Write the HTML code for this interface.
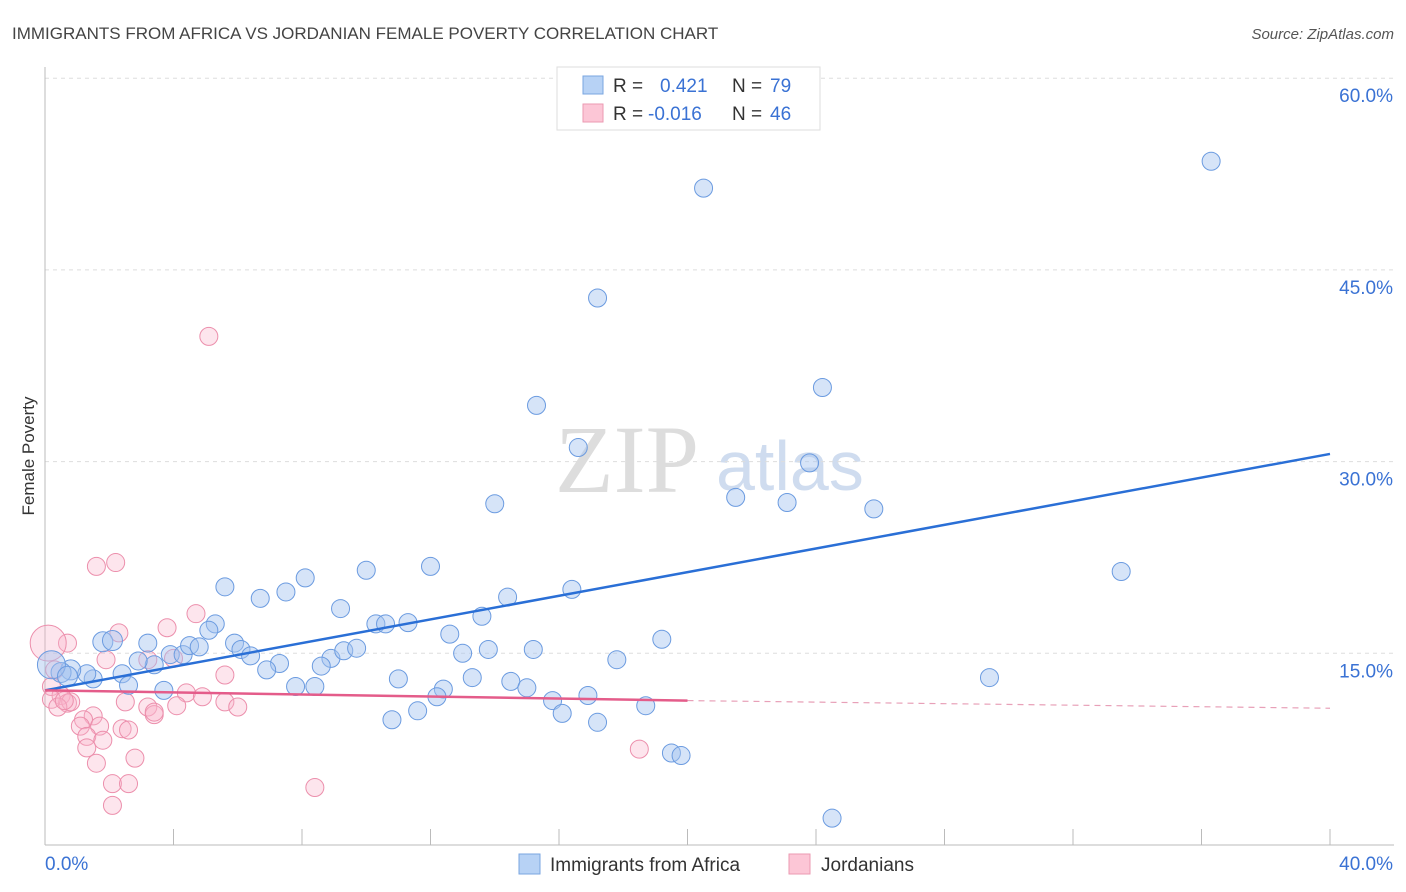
<!DOCTYPE html>
<html><head><meta charset="utf-8">
<style>
body{margin:0;background:#fff;font-family:"Liberation Sans",sans-serif;}
svg{display:block}
</style></head>
<body>
<svg id="chart" width="1406" height="892">
<text x="12" y="39" font-size="17" fill="#444">IMMIGRANTS FROM AFRICA VS JORDANIAN FEMALE POVERTY CORRELATION CHART</text>
<text x="1394" y="39" font-size="15" fill="#555" font-style="italic" text-anchor="end">Source: ZipAtlas.com</text>
<text x="34" y="456" font-size="17" fill="#333" text-anchor="middle" transform="rotate(-90 34 456)">Female Poverty</text>
<text x="555" y="492" font-size="96" fill="#ddd" font-family="Liberation Serif,serif">ZIP</text>
<text x="716" y="490" font-size="70" fill="#cfdcef">atlas</text>
<g id="grid"></g><g id="axes"></g>
<g id="pinkpts"></g><g id="bluepts"></g><g id="lines"></g>
<g>
<rect x="557" y="67" width="263" height="63" fill="#fff" stroke="#ddd"/>
<rect x="583" y="76" width="20" height="18" fill="#b7d2f5" stroke="#7aa6e0"/>
<rect x="583" y="104" width="20" height="18" fill="#fcc6d6" stroke="#eb9ab2"/>
<text x="613" y="92" font-size="19" fill="#333">R = </text><text x="660" y="92" font-size="19" fill="#3a72d4">0.421</text>
<text x="732" y="92" font-size="19" fill="#333">N = </text><text x="770" y="92" font-size="19" fill="#3a72d4">79</text>
<text x="613" y="120" font-size="19" fill="#333">R = </text><text x="648" y="120" font-size="19" fill="#3a72d4">-0.016</text>
<text x="732" y="120" font-size="19" fill="#333">N = </text><text x="770" y="120" font-size="19" fill="#3a72d4">46</text>
</g>
<g>
<rect x="519" y="854" width="21" height="20" fill="#b7d2f5" stroke="#7aa6e0"/>
<text x="550" y="871" font-size="19" fill="#333">Immigrants from Africa</text>
<rect x="789" y="854" width="21" height="20" fill="#fcc6d6" stroke="#eb9ab2"/>
<text x="821" y="871" font-size="19" fill="#333">Jordanians</text>
</g>
</svg>
<script>
const yTicks=[15,30,45,60];
const xTickLabels=["0.0%","40.0%"];
const blueX=[36.3,20.5,17.2,24.2,15.3,16.6,23.8,21.5,23.1,14.0,25.8,33.5,12.0,10.0,8.1,5.6,7.5,6.7,16.4,14.4,9.2,13.6,5.3,5.1,10.3,10.6,11.3,12.6,5.9,6.1,6.4,7.3,6.9,8.9,8.6,9.3,9.7,13.0,13.8,15.2,19.2,17.8,29.4,1.8,2.1,3.2,3.4,2.9,3.9,4.3,4.5,4.8,2.4,1.5,2.6,3.7,1.3,0.8,0.5,0.2,0.7,11.0,13.3,14.5,15.0,7.8,8.4,12.4,12.2,15.8,16.9,18.7,11.6,10.8,16.1,17.2,19.5,19.8,24.5];
const blueY=[53.5,51.4,42.8,35.8,34.4,31.1,29.9,27.2,26.8,26.7,26.3,21.4,21.8,21.5,20.9,20.2,19.8,19.3,20.0,19.4,18.5,17.9,17.3,16.8,17.3,17.3,17.4,16.5,15.8,15.3,14.8,14.2,13.7,14.6,14.0,15.2,15.4,15.0,15.3,15.3,16.1,14.5,13.1,15.9,16.0,15.8,14.1,14.4,14.9,14.9,15.6,15.5,13.4,13.0,12.5,12.1,13.4,13.7,13.5,14.1,13.2,13.0,13.1,12.8,12.3,12.4,12.4,12.2,11.6,11.3,11.7,10.9,10.5,9.8,10.3,9.6,7.2,7.0,2.1];
const blueR=[9,9,9,9,9,9,9,9,9,9,9,9,9,9,9,9,9,9,9,9,9,9,9,9,9,9,9,9,9,9,9,9,9,9,9,9,9,9,9,9,9,9,9,10,10,9,9,9,9,9,9,9,9,9,9,9,9,10,10,14,10,9,9,9,9,9,9,9,9,9,9,9,9,9,9,9,9,9,9];
const pinkX=[5.1,2.2,1.6,4.7,3.8,2.3,0.7,0.1,1.9,3.2,4.0,5.6,0.3,0.2,0.5,0.7,0.8,0.2,0.4,4.4,4.9,2.5,5.6,6.0,3.2,3.4,4.1,1.5,1.2,1.1,1.7,2.4,2.6,1.3,1.8,1.3,2.8,1.6,18.5,2.1,2.6,8.4,2.1,3.4,0.6];
const pinkY=[39.8,22.1,21.8,18.1,17.0,16.6,15.8,15.8,14.5,14.5,14.6,13.3,13.7,12.4,11.7,11.1,11.2,11.4,10.8,11.9,11.6,11.2,11.2,10.8,10.8,10.2,10.9,10.1,9.8,9.3,9.3,9.1,9.0,8.5,8.2,7.6,6.8,6.4,7.5,4.8,4.8,4.5,3.1,10.4,11.3];
const pinkR=[9,9,9,9,9,9,9,18,9,9,9,9,9,9,9,9,9,9,9,9,9,9,9,9,9,9,9,9,9,9,9,9,9,9,9,9,9,9,9,9,9,9,9,9,9];
const blueLine=[12.1,30.6];
const pinkLine=[12.1,11.3,10.7];
const NS="http://www.w3.org/2000/svg";
const X0=45,X1=1330,Y0=845,YS=191.7/15;
const sx=v=>X0+(X1-X0)*v/40, sy=v=>Y0-v*YS;
function mk(tag,attrs,parent){const e=document.createElementNS(NS,tag);for(const k in attrs)e.setAttribute(k,attrs[k]);parent.appendChild(e);return e;}
const grid=document.getElementById('grid'),axes=document.getElementById('axes');
yTicks.forEach(t=>{
 const l=mk('line',{x1:X0,x2:1394,y1:sy(t),y2:sy(t),stroke:'#ddd','stroke-dasharray':'4,4'},grid);
 
 
 const tx=mk('text',{x:1393,y:sy(t)+24,'font-size':19,fill:'#3a72d4','text-anchor':'end'},axes);
 tx.textContent=t.toFixed(1)+'%';
 
 
});
let ax=mk('line',{x1:X0,x2:X0,y1:67,y2:Y0,stroke:'#bbb'},axes);


ax=mk('line',{x1:X0,x2:1394,y1:Y0,y2:Y0,stroke:'#bbb'},axes);


for(let i=0;i<=10;i++){const x=sx(i*4);const tk=mk('line',{x1:x,x2:x,y1:Y0,y2:829,stroke:'#bbb'},axes);
 
 }
[[0,'start'],[40,'end']].forEach((p,i)=>{const t=mk('text',{x:i?1393:45,y:870,'font-size':19,fill:'#3a72d4','text-anchor':p[1]},axes);t.textContent=xTickLabels[i];
 
 });
const bp=document.getElementById('bluepts'),pp=document.getElementById('pinkpts');
pinkX.forEach((v,i)=>{const c=mk('circle',{cx:sx(v),cy:sy(pinkY[i]),r:pinkR[i],fill:'rgba(249,180,202,0.35)',stroke:'#ec8fac','stroke-width':1},pp);
 
 });
blueX.forEach((v,i)=>{const c=mk('circle',{cx:sx(v),cy:sy(blueY[i]),r:blueR[i],fill:'rgba(164,196,240,0.45)',stroke:'#6b9be0','stroke-width':1},bp);
 
 });
const lg=document.getElementById('lines');
let ln=mk('line',{x1:sx(0),y1:sy(blueLine[0]),x2:sx(40),y2:sy(blueLine[1]),stroke:'#2a6fd6','stroke-width':2.5},lg);


ln=mk('line',{x1:sx(0),y1:sy(pinkLine[0]),x2:sx(20),y2:sy(pinkLine[1]),stroke:'#e45c8a','stroke-width':2.5},lg);


ln=mk('line',{x1:sx(20),y1:sy(pinkLine[1]),x2:sx(40),y2:sy(pinkLine[2]),stroke:'#e8a0b8','stroke-width':1.2,'stroke-dasharray':'6,5'},lg);


</script>
</body></html>
